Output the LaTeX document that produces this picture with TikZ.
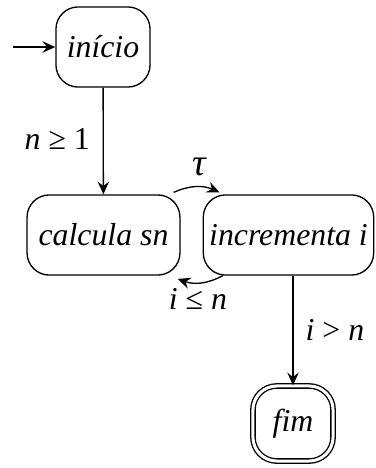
\documentclass[tikz,border=0pt]{standalone}
\usepackage{fontspec}
\setmainfont{Liberation Serif}
\usetikzlibrary{arrows.meta}
\newcommand{\rel}[1]{\hspace{0.25em}{\upshape #1}\hspace{0.25em}}
\begin{document}
\begin{tikzpicture}[x=0.3145pt,y=-0.3145pt,
  state/.style={draw,line width=0.42pt,rounded corners=7pt,inner sep=0pt,minimum height=25.2pt,font=\itshape},
  arr/.style={line width=0.42pt,-{Stealth[length=4pt,width=3.6pt,inset=1.4pt]}},
  lbl/.style={inner sep=0pt,font=\itshape}]
\useasboundingbox (0,0) rectangle (376,468);
\node[state,minimum width=29.6pt] (ini) at (103,47) {início};
\node[state,minimum width=48.1pt] (calc) at (103.5,235) {calcula sn};
\node[state,minimum width=53.6pt] (inc) at (288.5,235) {incrementa i};
\node[state,double,double distance=0.95pt,minimum width=25.2pt,minimum height=23.6pt,rounded corners=7.5pt] (fim) at (293,423.5) {fim};
\coordinate (start) at (13,47);
\draw[arr] (start) -- (ini.west);
\draw[arr] (ini) -- node[lbl,left=4pt,pos=0.48] {n\rel{≥}{\upshape 1}} (calc);
\draw[arr] ([xshift=-2.2pt,yshift=0.6pt]calc.north east) to[bend left=24] ([xshift=5.3pt,yshift=0.6pt]inc.north west);
\node[lbl,font=\itshape\large] (tau) at (199,167) {τ};
\draw[arr] ([xshift=6.3pt,yshift=0pt]inc.south west) to[bend left=24] ([xshift=-0.9pt,yshift=-1pt]calc.south east);
\node[lbl] (le) at (198,299) {i\rel{≤}n};
\draw[arr] (inc.south -| fim) -- (fim.north);
\node[lbl] (gt) at (335,330) {i\rel{>}n};
\end{tikzpicture}
\end{document}
